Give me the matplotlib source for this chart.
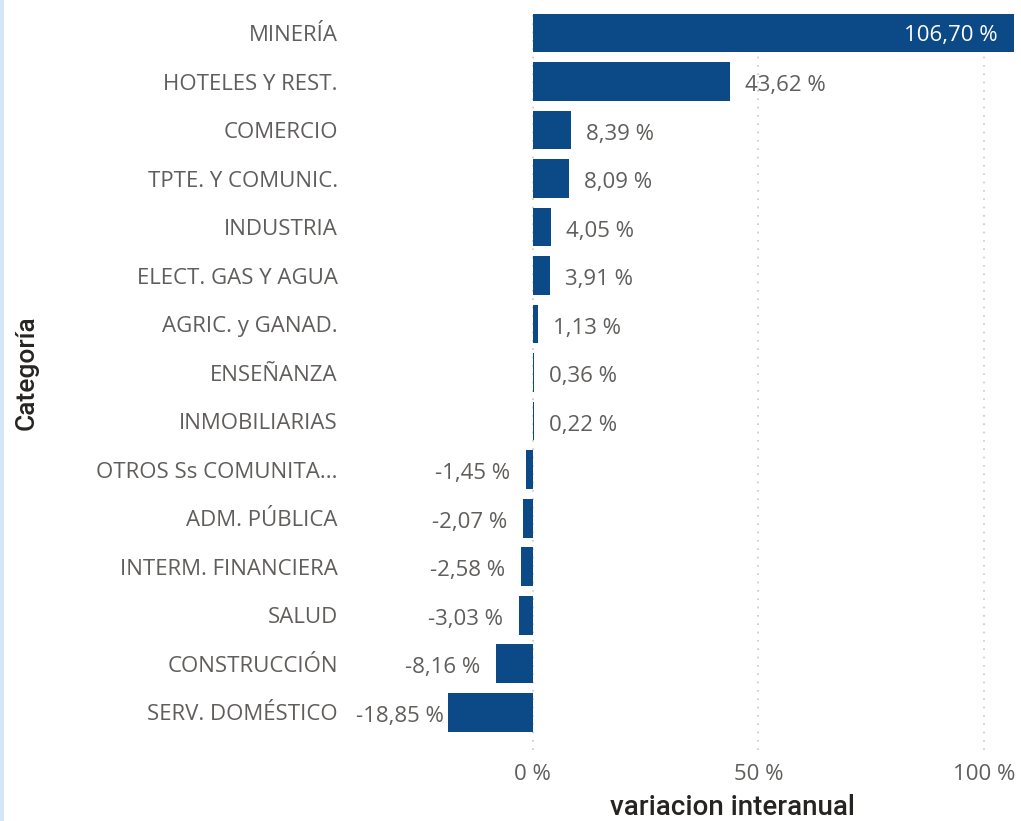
import matplotlib
matplotlib.use("Agg")
import matplotlib.pyplot as plt
from matplotlib.lines import Line2D

categorias = ["MINERÍA", "HOTELES Y REST.", "COMERCIO", "TPTE. Y COMUNIC.",
              "INDUSTRIA", "ELECT. GAS Y AGUA", "AGRIC. y GANAD.", "ENSEÑANZA",
              "INMOBILIARIAS", "OTROS Ss COMUNITA...", "ADM. PÚBLICA",
              "INTERM. FINANCIERA", "SALUD", "CONSTRUCCIÓN", "SERV. DOMÉSTICO"]
variacion = [106.70, 43.62, 8.39, 8.09, 4.05, 3.91, 1.13, 0.36, 0.22,
             -1.45, -2.07, -2.58, -3.03, -8.16, -18.85]
ticks = [0, 50, 100]

BLUE = "#0B4A87"
GRAY = "#605E5C"
INK = "#252423"
FONT = "Open Sans"
FS = 16


def fmt(v):
    return f"{v:.2f}".replace(".", ",") + " %"


fig = plt.figure(figsize=(10.21, 8.21), dpi=100)
ax = fig.add_axes([356 / 1021, 1 - 750 / 821, (1015 - 356) / 1021, (750 - 8.75) / 821])

ys = list(range(len(categorias)))
# ancho minimo de 1 px para las barras casi nulas (como Power BI)
px = (106.9 + 39.2) / 659
anchos = [v if abs(v) > px else px for v in variacion]
ax.barh(ys, anchos, height=0.8, color=BLUE, zorder=3)

ax.set_xlim(-39.2, 106.9)
ax.set_ylim(14.78, -0.5)
ax.set_yticks(ys)
ax.set_yticklabels(categorias, fontsize=FS, color=GRAY, family=FONT)
ax.set_xticks(ticks)
ax.set_xticklabels([f"{t} %" for t in ticks], fontsize=FS, color=GRAY, family=FONT)
ax.tick_params(axis="y", length=0, pad=13)
ax.tick_params(axis="x", length=0, pad=10)
for s in ax.spines.values():
    s.set_visible(False)
ax.grid(axis="x", linestyle=(0, (1, 4)), color="#C8C8C8", lw=1.2, zorder=0)

ax.set_xlabel("variacion interanual", fontsize=20, color=INK, family="Roboto",
              weight="medium")
ax.xaxis.set_label_coords((732 - 356) / 659, -(794 - 750) / 741.25)
ax.set_ylabel("Categoría", fontsize=19, color=INK, family="Roboto", weight="medium")
ax.yaxis.set_label_coords(-(356 - 39) / 659, 0.5 + 7 / 741)

# etiquetas de datos
fig.canvas.draw()
rend = fig.canvas.get_renderer()
ax_left = ax.get_window_extent(rend).x0
for y, v in zip(ys, variacion):
    txt = fmt(v)
    if v > 100:
        ax.annotate(txt, (v, y), xytext=(-16, -2), textcoords="offset pixels",
                    ha="right", va="center", fontsize=FS, color="white",
                    family=FONT, zorder=4)
    elif v >= 0:
        ax.annotate(txt, (max(v, px), y), xytext=(15, -4), textcoords="offset pixels",
                    ha="left", va="center", fontsize=FS, color=GRAY,
                    family=FONT, zorder=4)
    else:
        t = ax.annotate(txt, (v, y), xytext=(-16, -4), textcoords="offset pixels",
                        ha="right", va="center", fontsize=FS, color=GRAY,
                        family=FONT, zorder=4)
        bb = t.get_window_extent(rend)
        if bb.x0 < ax_left:
            t.set_position((0, -4))
            t.set_ha("left")
            t.xy = (ax.get_xlim()[0], y)

# borde izquierdo del visual
fig.add_artist(Line2D([0.0015, 0.0015], [0, 1], color="#D3E7F7", lw=3,
                      transform=fig.transFigure))

fig.savefig("out.png", dpi=100)
